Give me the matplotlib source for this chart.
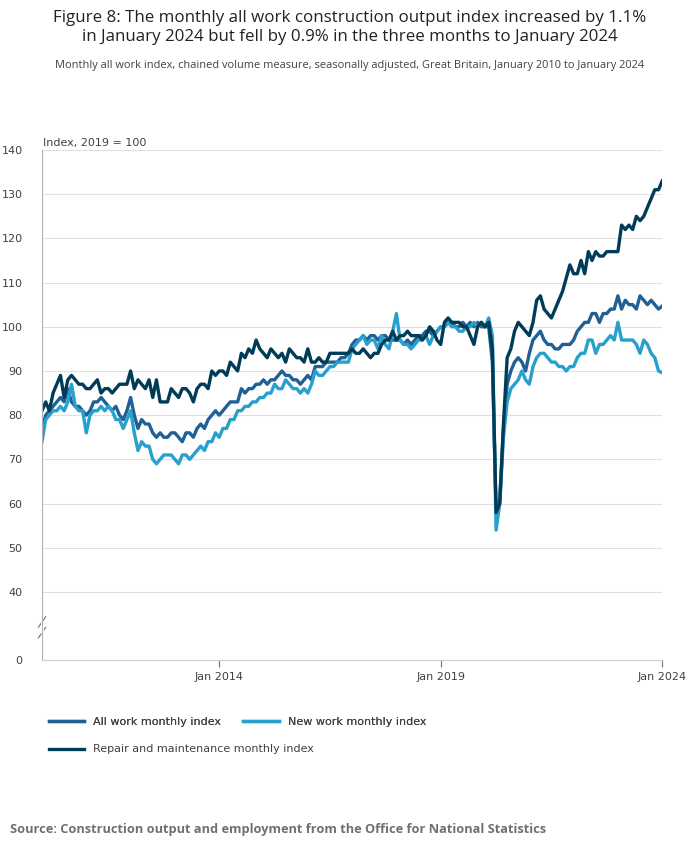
import numpy as np
import matplotlib.pyplot as plt

# monthly values Jan 2010 .. Jan 2024
all_work = [
    77, 80, 81, 82, 83, 84, 83, 86, 83, 82, 82, 81,
    80, 81, 83, 83, 84, 83, 82, 81, 82, 80, 79, 81,
    84, 80, 77, 79, 78, 78, 76, 75, 76, 75, 75, 76,
    76, 75, 74, 76, 76, 75, 77, 78, 77, 79, 80, 81,
    80, 81, 82, 83, 83, 83, 86, 85, 86, 86, 87, 87,
    88, 87, 88, 88, 89, 90, 89, 89, 88, 88, 87, 88,
    89, 88, 91, 91, 91, 92, 92, 92, 92, 93, 93, 94,
    96, 97, 97, 98, 97, 98, 98, 97, 98, 98, 97, 97,
    97, 97, 96, 97, 96, 97, 98, 98, 99, 99, 98, 99,
    100, 100, 101, 101, 100, 100, 101, 100, 101, 100, 101, 100,
    100, 100, 92, 59, 61, 77, 87, 90, 92, 93, 92, 90,
    94, 97, 98, 99, 97, 96, 96, 95, 95, 96, 96, 96,
    97, 99, 100, 101, 101, 103, 103, 101, 103, 103, 104, 104,
    107, 104, 106, 105, 105, 104, 107, 106, 105, 106, 105, 104,
    104.7,
]
new_work = [
    74, 79, 80, 81, 81, 82, 81, 83, 87, 82, 81, 81,
    76, 80, 81, 81, 82, 81, 82, 81, 79, 79, 77, 79,
    81, 76, 72, 74, 73, 73, 70, 69, 70, 71, 71, 71,
    70, 69, 71, 71, 70, 71, 72, 73, 72, 74, 74, 76,
    75, 77, 77, 79, 79, 81, 81, 82, 82, 83, 83, 84,
    84, 85, 85, 87, 86, 86, 88, 87, 86, 86, 85, 86,
    85, 87, 90, 89, 89, 90, 91, 91, 92, 92, 92, 92,
    95, 96, 97, 98, 96, 97, 97, 95, 98, 96, 95, 99,
    103, 97, 96, 96, 95, 96, 97, 97, 98, 96, 98, 99,
    100, 100, 101, 100, 100, 99, 99, 100, 100, 101, 100, 101,
    100, 102, 98, 54, 60, 75, 83, 86, 87, 88, 90, 88,
    87, 91, 93, 94, 94, 93, 92, 92, 91, 91, 90, 91,
    91, 93, 94, 94, 97, 97, 94, 96, 96, 97, 98, 97,
    101, 97, 97, 97, 97, 96, 94, 97, 96, 94, 93, 90,
    89.6,
]
repair = [
    81, 83, 81, 85, 87, 89, 84, 88, 89, 88, 87, 87,
    86, 86, 87, 88, 85, 86, 86, 85, 86, 87, 87, 87,
    90, 86, 88, 87, 86, 88, 84, 88, 83, 83, 83, 86,
    85, 84, 86, 86, 85, 83, 86, 87, 87, 86, 90, 89,
    90, 90, 89, 92, 91, 90, 94, 93, 95, 94, 97, 95,
    94, 93, 95, 94, 93, 94, 92, 95, 94, 93, 93, 92,
    95, 92, 92, 93, 92, 92, 94, 94, 94, 94, 94, 94,
    95, 94, 94, 95, 94, 93, 94, 94, 96, 97, 97, 99,
    97, 98, 98, 99, 98, 98, 98, 97, 98, 100, 99, 97,
    96, 101, 102, 101, 101, 101, 100, 100, 98, 96, 100, 101,
    100, 101, 95, 58, 60, 78, 93, 95, 99, 101, 100, 99,
    98, 101, 106, 107, 104, 103, 102, 104, 106, 108, 111, 114,
    112, 112, 115, 112, 117, 115, 117, 116, 116, 117, 117, 117,
    117, 123, 122, 123, 122, 125, 124, 125, 127, 129, 131, 131,
    133,
]
tick_labels = ["Jan 2014", "Jan 2019", "Jan 2024"]
tick_months = [48, 108, 168]
y_ticks = [40, 50, 60, 70, 80, 90, 100, 110, 120, 130, 140]

# 0 is drawn below a broken axis
zero_pos = 40 - 68 / 4.42

months = np.arange(len(all_work))

fig = plt.figure(figsize=(7, 8.57), dpi=100)
ax = fig.add_axes([0.06, 0.2299, 0.886, 0.5951])

ax.plot(months, all_work, color="#206095", lw=2.4, label="All work monthly index")
ax.plot(months, new_work, color="#27a0cc", lw=2.4, label="New work monthly index")
ax.plot(months, repair, color="#003c57", lw=2.4, label="Repair and maintenance monthly index")

ax.set_xlim(0, 168)
ax.set_ylim(zero_pos, 140)
ax.set_yticks(y_ticks + [zero_pos])
ax.set_yticklabels([str(t) for t in y_ticks] + ["0"])
ax.set_xticks(tick_months)
ax.set_xticklabels(tick_labels)
ax.tick_params(axis="y", length=0, labelsize=8, colors="#707070", pad=14)
ax.tick_params(axis="x", length=5, labelsize=8, colors="#707070", pad=4)
for lab in ax.get_xticklabels() + ax.get_yticklabels():
    lab.set_color("#414042")
ax.grid(axis="y", color="#e0e0e0", lw=0.8)
ax.set_axisbelow(True)
for s in ["top", "right"]:
    ax.spines[s].set_visible(False)
ax.spines["bottom"].set_color("#d0d0d0")
ax.spines["left"].set_color("#b0b0b0")

# axis break marks
for dy in (-1.2, 1.2):
    ax.plot([-1.0, 1.0], [32 + dy - 1.2, 32 + dy + 1.2], color="#707070", lw=0.8, clip_on=False)
ax.plot([0, 0], [31, 33.2], color="white", lw=2, clip_on=False)

fig.text(0.062, 0.827, "Index, 2019 = 100", fontsize=8, color="#414042", va="bottom")

fig.text(0.5, 0.988, "Figure 8: The monthly all work construction output index increased by 1.1%\n"
         "in January 2024 but fell by 0.9% in the three months to January 2024",
         ha="center", va="top", fontsize=12.2, color="#222222", linespacing=1.2,
         family="Open Sans")
fig.text(0.5, 0.93, "Monthly all work index, chained volume measure, seasonally adjusted, "
         "Great Britain, January 2010 to January 2024",
         ha="center", va="top", fontsize=7.9, color="#414042", family="Open Sans")

handles, labels = ax.get_legend_handles_labels()
leg1 = fig.legend(handles[:2], labels[:2], loc="upper left", bbox_to_anchor=(0.055, 0.175),
                  ncol=2, frameon=False, fontsize=8, handlelength=3.2, columnspacing=2.0,
                  labelcolor="#414042")
fig.legend(handles[2:], labels[2:], loc="upper left", bbox_to_anchor=(0.055, 0.143),
           frameon=False, fontsize=8, handlelength=3.2, labelcolor="#414042")
fig.add_artist(leg1)

fig.text(0.014, 0.032, "Source: Construction output and employment from the Office for National Statistics",
         fontsize=9.2, fontweight="bold", color="#707070", va="center", family="Open Sans")

fig.savefig("out.png", dpi=100)
